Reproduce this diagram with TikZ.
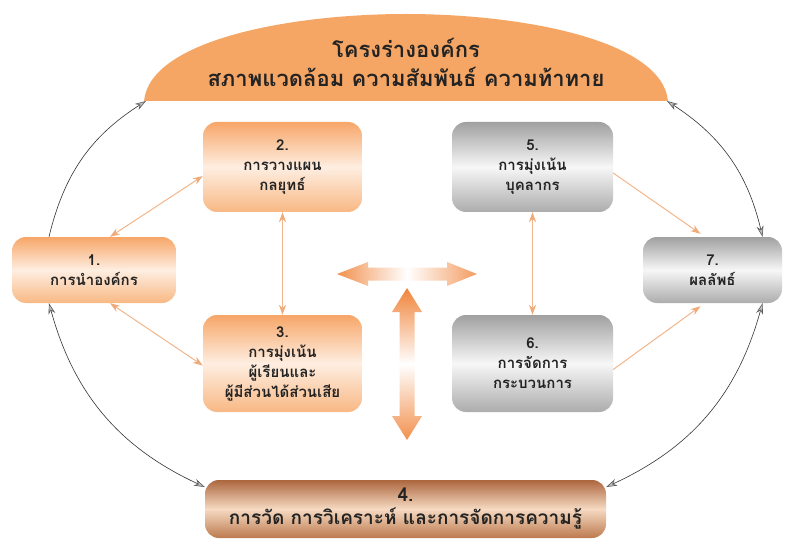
\documentclass[tikz,border=0pt]{standalone}
\usepackage{fontspec}
\newfontfamily\thaifont[Script=Thai]{Loma}
\usetikzlibrary{arrows.meta,calc}
\definecolor{otop}{RGB}{247,166,104}
\definecolor{omid}{RGB}{254,238,225}
\definecolor{obot}{RGB}{248,184,132}
\definecolor{gtop}{RGB}{160,160,160}
\definecolor{gmid}{RGB}{247,247,247}
\definecolor{gbot}{RGB}{172,172,172}
\definecolor{btop}{RGB}{172,102,62}
\definecolor{bmid}{RGB}{246,218,194}
\definecolor{bbot}{RGB}{188,122,78}
\definecolor{dome}{RGB}{246,166,100}
\definecolor{oline}{RGB}{242,182,138}
\definecolor{bigo}{RGB}{240,132,58}
\definecolor{txt}{RGB}{35,35,35}
\definecolor{tipline}{RGB}{90,90,90}
\definecolor{tipfill}{RGB}{190,190,190}
\definecolor{otip}{RGB}{240,170,120}
\tikzset{
  boxbase/.style={rectangle, rounded corners=14pt, align=center, text=txt,
     font=\thaifont\bfseries\fontsize{15}{20}\selectfont, inner sep=2pt},
  obox/.style={boxbase, top color=otop, bottom color=obot, middle color=omid},
  gbox/.style={boxbase, top color=gtop, bottom color=gbot, middle color=gmid},
  bbox/.style={boxbase, top color=btop, bottom color=bbot, middle color=bmid,
     font=\thaifont\bfseries\fontsize{19}{23}\selectfont},
  otipk/.tip={Stealth[length=10pt,width=7pt,color=otip]},
  gtip/.tip={Stealth[length=11pt,width=7pt,color=tipline,fill=tipfill]},
  olink/.style={draw=oline, line width=1pt, -otipk},
  olinkd/.style={draw=oline, line width=1pt, otipk-otipk},
  blink/.style={draw=black!80, line width=0.6pt},
}
\begin{document}
\begin{tikzpicture}[x=1pt,y=-1pt]
\useasboundingbox[fill=white] (0,0) rectangle (795,540);

% dome
\fill[dome] (144,101) .. controls (150,40) and (290,14) .. (406,14)
   .. controls (522,14) and (662,40) .. (668,101) -- cycle;
\node[align=center, text=txt, font=\thaifont\bfseries\fontsize{22}{29}\selectfont] (domet) at (406,62)
   {โครงร่างองค์กร\\สภาพแวดล้อม ความสัมพันธ์ ความท้าทาย};
\coordinate (domeL) at (146,101);
\coordinate (domeR) at (667,101);

% boxes
\node[obox, minimum width=164pt, minimum height=66pt] (b1) at (94,270) {1.\\การนำองค์กร};
\node[obox, minimum width=159pt, minimum height=90pt] (b2) at (282.5,167) {2.\\การวางแผน\\กลยุทธ์};
\node[obox, minimum width=159pt, minimum height=97pt] (b3) at (282.5,363.5) {3.\\การมุ่งเน้น\\ผู้เรียนและ\\ผู้มีส่วนได้ส่วนเสีย};
\node[gbox, minimum width=161pt, minimum height=90pt] (b5) at (532.5,167) {5.\\การมุ่งเน้น\\บุคลากร};
\node[gbox, minimum width=161pt, minimum height=97pt] (b6) at (532.5,363.5) {6.\\การจัดการ\\กระบวนการ};
\node[gbox, minimum width=139pt, minimum height=66pt] (b7) at (712.5,270) {7.\\ผลลัพธ์};
\node[bbox, minimum width=401pt, minimum height=58pt] (b4) at (405.5,509) {4.\\การวัด การวิเคราะห์ และการจัดการความรู้};

% big arrows
\path[left color=bigo!90, right color=bigo!80, middle color=white]
  (337,274) -- (368,262) -- (368,267.5) -- (447,267.5) -- (447,262) -- (477,274)
  -- (447,286) -- (447,280.5) -- (368,280.5) -- (368,286) -- cycle;
\path[top color=bigo, bottom color=bigo!90, middle color=white]
  (407,288) -- (422,312) -- (414.5,312) -- (414.5,416) -- (422,416) -- (407,440)
  -- (392,416) -- (399.5,416) -- (399.5,312) -- (392,312) -- cycle;

% orange links
\draw[olinkd] ($(b1.north)+(16,0)$) -- ($(b2.west)+(0,9)$);
\draw[olinkd] ($(b1.south)+(16,0)$) -- ($(b3.west)+(0,2)$);
\draw[olinkd] (b2.south) -- (b3.north);
\draw[olinkd] (b5.south) -- (b6.north);
\draw[olink] ($(b5.east)+(0,6)$) -- ($(b7.north)+(-12,-3)$);
\draw[olink] ($(b6.east)+(0,6)$) -- ($(b7.south)+(-12,3)$);

% black curved links
\draw[blink, -gtip] ($(b1.north)+(-45,0)$) to[bend left=22] (domeL);
\draw[blink, gtip-gtip] ($(b1.south)+(-45,0)$) to[bend right=25] ($(b4.west)+(0,-22)$);
\draw[blink, gtip-gtip] (domeR) to[bend left=22] ($(b7.north)+(50,0)$);
\draw[blink, gtip-gtip] ($(b7.south)+(50,0)$) to[bend left=25] ($(b4.east)+(0,-22)$);
\end{tikzpicture}
\end{document}
